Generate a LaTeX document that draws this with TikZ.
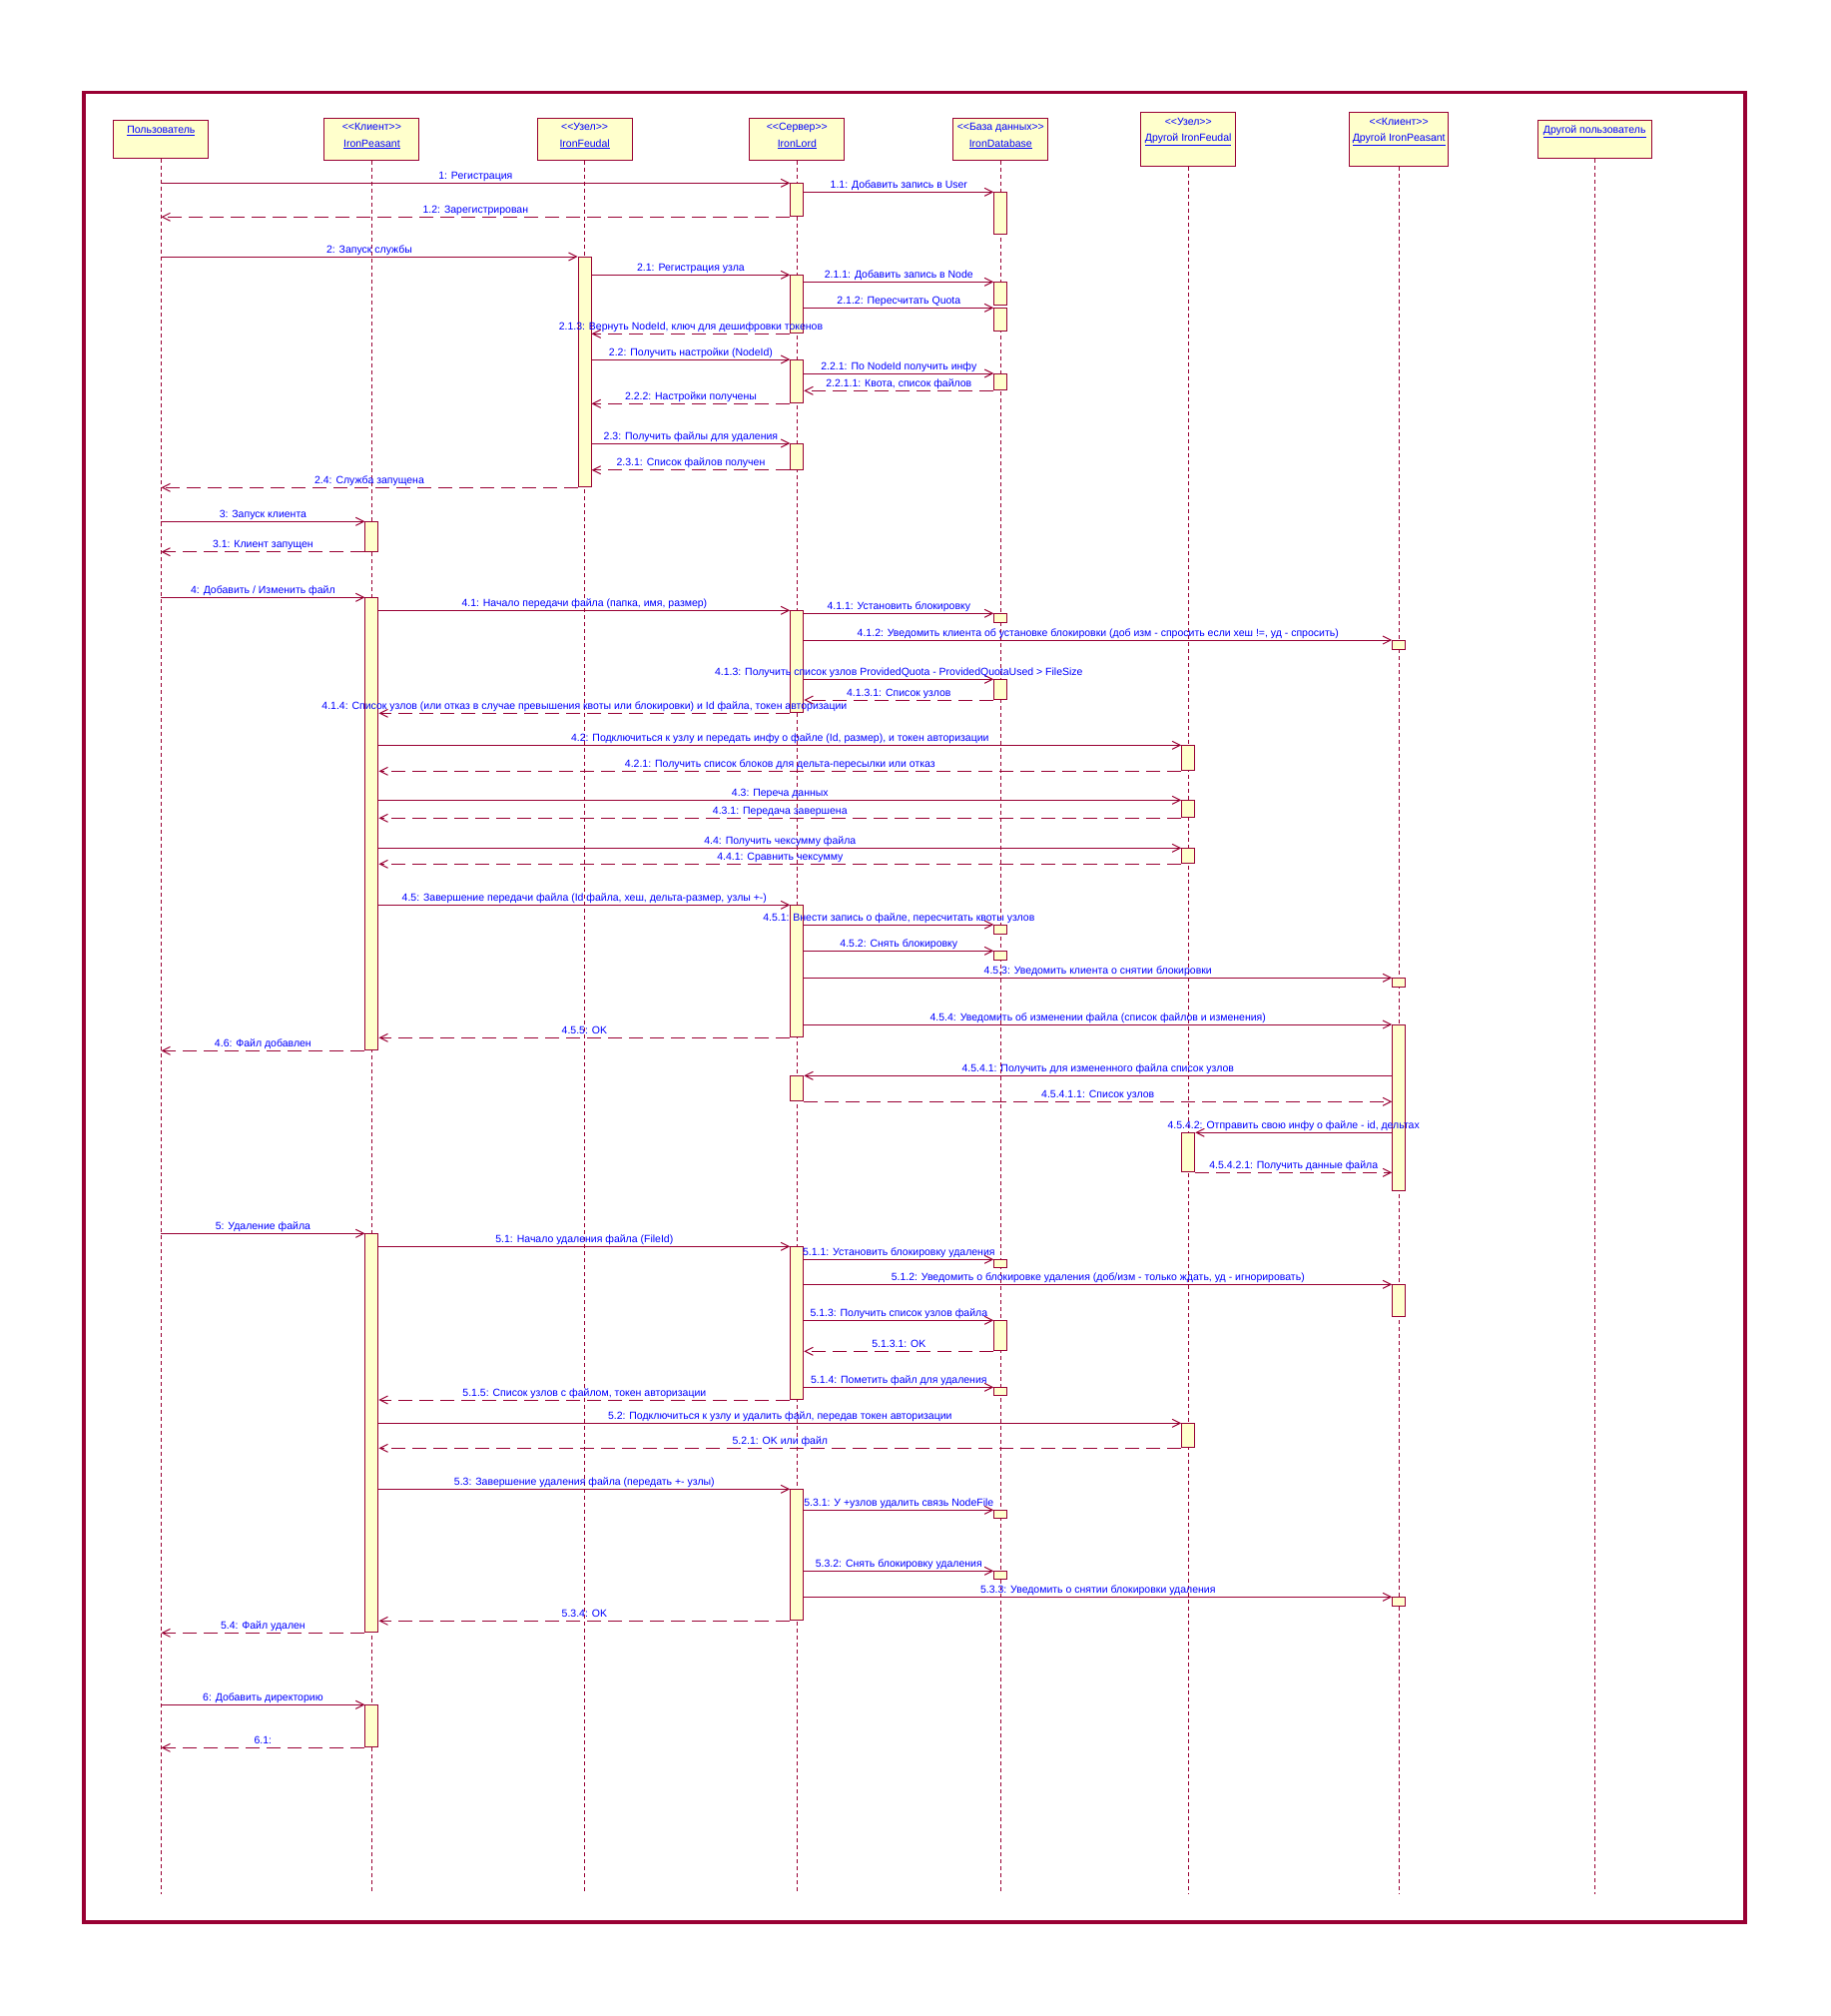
\documentclass[tikz,border=0pt]{standalone}
\usepackage{fontspec}
\newfontfamily\umlfont{Liberation Sans}
\usetikzlibrary{arrows.meta,positioning}
\definecolor{umlred}{RGB}{153,0,51}
\definecolor{umlfill}{RGB}{255,255,204}
\definecolor{umlblue}{RGB}{0,0,255}
\newcommand{\msgfont}{\umlfont\fontsize{10.5}{12}\selectfont}
% activation bar: name, lifeline, top, bottom
\newcommand{\actbar}[4]{\node[act, minimum height={#4-#3}] (#1) at (#2 |- 0,#3) {};}
\tikzset{
  objbox/.style={draw=umlred, fill=umlfill, line width=1pt, anchor=north, inner sep=0pt},
  objtxt/.style={anchor=base, inner sep=0pt, text=umlblue, font=\msgfont},
  lifeline/.style={draw=umlred, line width=0.9pt, dash pattern=on 4pt off 3pt},
  act/.style={draw=umlred, fill=umlfill, line width=1pt, minimum width=13, inner sep=0pt, anchor=north},
  call/.style={draw=umlred, line width=1pt, -{Straight Barb[length=8pt,width=8pt]}},
  ret/.style={call, dash pattern=on 14pt off 7pt},
  lbl/.style={midway, anchor=base, yshift=4pt, inner sep=0pt, text=umlblue, font=\msgfont},
  frame/.style={draw=umlred, line width=3.5pt}
}
\begin{document}
\begin{tikzpicture}[x=1pt,y=-1pt]
    \useasboundingbox (0,0) rectangle (1834,2019);
    \draw[frame] (84,92.7) rectangle (1748,1925);

    % objects
    \node[objbox, minimum width=95, minimum height=38] (user) at (161.4,120) {};
    \node[objbox, minimum width=95, minimum height=42] (peasant) at (372.4,118.3) {};
    \node[objbox, minimum width=95, minimum height=42] (feudal) at (585.6,118.3) {};
    \node[objbox, minimum width=95, minimum height=42] (lord) at (798.3,118.3) {};
    \node[objbox, minimum width=95, minimum height=42] (db) at (1002.3,118.3) {};
    \node[objbox, minimum width=95, minimum height=54] (ofeudal) at (1190.2,112.3) {};
    \node[objbox, minimum width=99, minimum height=54] (opeasant) at (1401.2,112.3) {};
    \node[objbox, minimum width=114, minimum height=38] (ouser) at (1597.2,120.3) {};

    \node[objtxt] (user-nm) at ([yshift=-13.6pt]user.north) {\underline{Пользователь}};
    \node[objtxt] (peasant-st) at ([yshift=-12.6pt]peasant.north) {<<Клиент>>};
    \node[objtxt] (peasant-nm) at ([yshift=-28.8pt]peasant.north) {\underline{IronPeasant}};
    \node[objtxt] (feudal-st) at ([yshift=-12.6pt]feudal.north) {<<Узел>>};
    \node[objtxt] (feudal-nm) at ([yshift=-28.8pt]feudal.north) {\underline{IronFeudal}};
    \node[objtxt] (lord-st) at ([yshift=-12.6pt]lord.north) {<<Сервер>>};
    \node[objtxt] (lord-nm) at ([yshift=-28.8pt]lord.north) {\underline{IronLord}};
    \node[objtxt] (db-st) at ([yshift=-12.6pt]db.north) {<<База данных>>};
    \node[objtxt] (db-nm) at ([yshift=-28.8pt]db.north) {\underline{IronDatabase}};
    \node[objtxt] (ofeudal-st) at ([yshift=-13pt]ofeudal.north) {<<Узел>>};
    \node[objtxt] (ofeudal-nm) at ([yshift=-29pt]ofeudal.north) {\underline{Другой IronFeudal}};
    \node[objtxt] (opeasant-st) at ([yshift=-13pt]opeasant.north) {<<Клиент>>};
    \node[objtxt] (opeasant-nm) at ([yshift=-29pt]opeasant.north) {\underline{Другой IronPeasant}};
    \node[objtxt] (ouser-nm) at ([yshift=-13.6pt]ouser.north) {\underline{Другой пользователь}};

    % lifelines
    \draw[lifeline] (user.south) -- (user.south |- 0,1897);
    \draw[lifeline] (peasant.south) -- (peasant.south |- 0,1897);
    \draw[lifeline] (feudal.south) -- (feudal.south |- 0,1897);
    \draw[lifeline] (lord.south) -- (lord.south |- 0,1897);
    \draw[lifeline] (db.south) -- (db.south |- 0,1897);
    \draw[lifeline] (ofeudal.south) -- (ofeudal.south |- 0,1897);
    \draw[lifeline] (opeasant.south) -- (opeasant.south |- 0,1897);
    \draw[lifeline] (ouser.south) -- (ouser.south |- 0,1897);

    % activations
    \actbar{L1}{lord}{183.3}{216.3}
    \actbar{D1}{db}{192.3}{234.3}
    \actbar{F1}{feudal}{257}{487.3}
    \actbar{L2}{lord}{275.3}{333.3}
    \actbar{D2}{db}{282.3}{305.3}
    \actbar{D3}{db}{308.3}{331.3}
    \actbar{L3}{lord}{360}{403.3}
    \actbar{D4}{db}{374}{390.3}
    \actbar{L4}{lord}{444}{469.7}
    \actbar{P1}{peasant}{522.3}{551.7}
    \actbar{P2}{peasant}{598.3}{1051.3}
    \actbar{L5}{lord}{611.3}{713.3}
    \actbar{D5}{db}{614.3}{623.3}
    \actbar{Q1}{opeasant}{641}{650.3}
    \actbar{D6}{db}{680.3}{700}
    \actbar{G1}{ofeudal}{746.3}{771.3}
    \actbar{G2}{ofeudal}{801.3}{818.3}
    \actbar{G3}{ofeudal}{849.3}{864.3}
    \actbar{L6}{lord}{906.3}{1038.3}
    \actbar{D7}{db}{926}{935.3}
    \actbar{D8}{db}{952.3}{961.3}
    \actbar{Q2}{opeasant}{979.3}{988.3}
    \actbar{Q3}{opeasant}{1026}{1192.3}
    \actbar{L7}{lord}{1077.3}{1102.3}
    \actbar{G4}{ofeudal}{1134.3}{1173.3}
    \actbar{P3}{peasant}{1235.3}{1634.3}
    \actbar{L8}{lord}{1248.3}{1401}
    \actbar{D9}{db}{1261.3}{1269.3}
    \actbar{Q4}{opeasant}{1286.3}{1318.3}
    \actbar{D10}{db}{1322.3}{1352.3}
    \actbar{D11}{db}{1389.3}{1397.3}
    \actbar{G5}{ofeudal}{1425.3}{1449.3}
    \actbar{L9}{lord}{1491.3}{1622.3}
    \actbar{D12}{db}{1512.3}{1520.3}
    \actbar{D13}{db}{1573.3}{1581.3}
    \actbar{Q5}{opeasant}{1599.3}{1608.3}
    \actbar{P4}{peasant}{1707.3}{1749.3}

    % 1
    \draw[call] (user |- L1.north) -- (L1.north west) node[lbl] (m1) {1: Регистрация};
    \draw[call] (L1.east |- D1.north) -- (D1.north west) node[lbl] (m1-1) {1.1: Добавить запись в User};
    \draw[ret] (L1.south west) -- (user |- L1.south) node[lbl] (m1-2) {1.2: Зарегистрирован};
    % 2
    \draw[call] (user |- F1.north) -- (F1.north west) node[lbl] (m2) {2: Запуск службы};
    \draw[call] (F1.east |- L2.north) -- (L2.north west) node[lbl] (m2-1) {2.1: Регистрация узла};
    \draw[call] (L2.east |- D2.north) -- (D2.north west) node[lbl] (m2-1-1) {2.1.1: Добавить запись в Node};
    \draw[call] (L2.east |- D3.north) -- (D3.north west) node[lbl] (m2-1-2) {2.1.2: Пересчитать Quota};
    \draw[ret] (L2.south west) -- (F1.east |- L2.south) node[lbl] (m2-1-3) {2.1.3: Вернуть NodeId, ключ для дешифровки токенов};
    \draw[call] (F1.east |- L3.north) -- (L3.north west) node[lbl] (m2-2) {2.2: Получить настройки (NodeId)};
    \draw[call] (L3.east |- D4.north) -- (D4.north west) node[lbl] (m2-2-1) {2.2.1: По NodeId получить инфу};
    \draw[ret] (D4.south west) -- (L3.east |- D4.south) node[lbl] (m2-2-1-1) {2.2.1.1: Квота, список файлов};
    \draw[ret] (L3.south west) -- (F1.east |- L3.south) node[lbl] (m2-2-2) {2.2.2: Настройки получены};
    \draw[call] (F1.east |- L4.north) -- (L4.north west) node[lbl] (m2-3) {2.3: Получить файлы для удаления};
    \draw[ret] (L4.south west) -- (F1.east |- L4.south) node[lbl] (m2-3-1) {2.3.1: Список файлов получен};
    \draw[ret] (F1.south west) -- (user |- F1.south) node[lbl] (m2-4) {2.4: Служба запущена};
    % 3
    \draw[call] (user |- P1.north) -- (P1.north west) node[lbl] (m3) {3: Запуск клиента};
    \draw[ret] (P1.south west) -- (user |- P1.south) node[lbl] (m3-1) {3.1: Клиент запущен};
    % 4
    \draw[call] (user |- P2.north) -- (P2.north west) node[lbl] (m4) {4: Добавить / Изменить файл};
    \draw[call] (P2.east |- L5.north) -- (L5.north west) node[lbl] (m4-1) {4.1: Начало передачи файла (папка, имя, размер)};
    \draw[call] (L5.east |- D5.north) -- (D5.north west) node[lbl] (m4-1-1) {4.1.1: Установить блокировку};
    \draw[call] (L5.east |- Q1.north) -- (Q1.north west) node[lbl] (m4-1-2) {4.1.2: Уведомить клиента об установке блокировки (доб изм - спросить если хеш !=, уд - спросить)};
    \draw[call] (L5.east |- D6.north) -- (D6.north west) node[lbl] (m4-1-3) {4.1.3: Получить список узлов ProvidedQuota - ProvidedQuotaUsed > FileSize};
    \draw[ret] (D6.south west) -- (L5.east |- D6.south) node[lbl] (m4-1-3-1) {4.1.3.1: Список узлов};
    \draw[ret] (L5.south west) -- (P2.east |- L5.south) node[lbl] (m4-1-4) {4.1.4: Список узлов (или отказ в случае превышения квоты или блокировки) и Id файла, токен авторизации};
    \draw[call] (P2.east |- G1.north) -- (G1.north west) node[lbl] (m4-2) {4.2: Подключиться к узлу и передать инфу о файле (Id, размер), и токен авторизации};
    \draw[ret] (G1.south west) -- (P2.east |- G1.south) node[lbl] (m4-2-1) {4.2.1: Получить список блоков для дельта-пересылки или отказ};
    \draw[call] (P2.east |- G2.north) -- (G2.north west) node[lbl] (m4-3) {4.3: Переча данных};
    \draw[ret] (G2.south west) -- (P2.east |- G2.south) node[lbl] (m4-3-1) {4.3.1: Передача завершена};
    \draw[call] (P2.east |- G3.north) -- (G3.north west) node[lbl] (m4-4) {4.4: Получить чексумму файла};
    \draw[ret] (G3.south west) -- (P2.east |- G3.south) node[lbl] (m4-4-1) {4.4.1: Сравнить чексумму};
    \draw[call] (P2.east |- L6.north) -- (L6.north west) node[lbl] (m4-5) {4.5: Завершение передачи файла (Id файла, хеш, дельта-размер, узлы +-)};
    \draw[call] (L6.east |- D7.north) -- (D7.north west) node[lbl] (m4-5-1) {4.5.1: Внести запись о файле, пересчитать квоты узлов};
    \draw[call] (L6.east |- D8.north) -- (D8.north west) node[lbl] (m4-5-2) {4.5.2: Снять блокировку};
    \draw[call] (L6.east |- Q2.north) -- (Q2.north west) node[lbl] (m4-5-3) {4.5.3: Уведомить клиента о снятии блокировки};
    \draw[call] (L6.east |- Q3.north) -- (Q3.north west) node[lbl] (m4-5-4) {4.5.4: Уведомить об изменении файла (список файлов и изменения)};
    \draw[ret] (L6.south west) -- (P2.east |- L6.south) node[lbl] (m4-5-5) {4.5.5: OK};
    \draw[ret] (P2.south west) -- (user |- P2.south) node[lbl] (m4-6) {4.6: Файл добавлен};
    \draw[call] (Q3.west |- L7.north) -- (L7.north east) node[lbl] (m4-5-4-1) {4.5.4.1: Получить для измененного файла список узлов};
    \draw[ret] (L7.south east) -- (Q3.west |- L7.south) node[lbl] (m4-5-4-1-1) {4.5.4.1.1: Список узлов};
    \draw[call] (Q3.west |- G4.north) -- (G4.north east) node[lbl] (m4-5-4-2) {4.5.4.2: Отправить свою инфу о файле - id, дельтах};
    \draw[ret] (G4.south east) -- (Q3.west |- G4.south) node[lbl] (m4-5-4-2-1) {4.5.4.2.1: Получить данные файла};
    % 5
    \draw[call] (user |- P3.north) -- (P3.north west) node[lbl] (m5) {5: Удаление файла};
    \draw[call] (P3.east |- L8.north) -- (L8.north west) node[lbl] (m5-1) {5.1: Начало удаления файла (FileId)};
    \draw[call] (L8.east |- D9.north) -- (D9.north west) node[lbl] (m5-1-1) {5.1.1: Установить блокировку удаления};
    \draw[call] (L8.east |- Q4.north) -- (Q4.north west) node[lbl] (m5-1-2) {5.1.2: Уведомить о блокировке удаления (доб/изм - только ждать, уд - игнорировать)};
    \draw[call] (L8.east |- D10.north) -- (D10.north west) node[lbl] (m5-1-3) {5.1.3: Получить список узлов файла};
    \draw[ret] (D10.south west) -- (L8.east |- D10.south) node[lbl] (m5-1-3-1) {5.1.3.1: OK};
    \draw[call] (L8.east |- D11.north) -- (D11.north west) node[lbl] (m5-1-4) {5.1.4: Пометить файл для удаления};
    \draw[ret] (L8.south west) -- (P3.east |- L8.south) node[lbl] (m5-1-5) {5.1.5: Список узлов с файлом, токен авторизации};
    \draw[call] (P3.east |- G5.north) -- (G5.north west) node[lbl] (m5-2) {5.2: Подключиться к узлу и удалить файл, передав токен авторизации};
    \draw[ret] (G5.south west) -- (P3.east |- G5.south) node[lbl] (m5-2-1) {5.2.1: OK или файл};
    \draw[call] (P3.east |- L9.north) -- (L9.north west) node[lbl] (m5-3) {5.3: Завершение удаления файла (передать +- узлы)};
    \draw[call] (L9.east |- D12.north) -- (D12.north west) node[lbl] (m5-3-1) {5.3.1: У +узлов удалить связь NodeFile};
    \draw[call] (L9.east |- D13.north) -- (D13.north west) node[lbl] (m5-3-2) {5.3.2: Снять блокировку удаления};
    \draw[call] (L9.east |- Q5.north) -- (Q5.north west) node[lbl] (m5-3-3) {5.3.3: Уведомить о снятии блокировки удаления};
    \draw[ret] (L9.south west) -- (P3.east |- L9.south) node[lbl] (m5-3-4) {5.3.4: OK};
    \draw[ret] (P3.south west) -- (user |- P3.south) node[lbl] (m5-4) {5.4: Файл удален};
    % 6
    \draw[call] (user |- P4.north) -- (P4.north west) node[lbl] (m6) {6: Добавить директорию};
    \draw[ret] (P4.south west) -- (user |- P4.south) node[lbl] (m6-1) {6.1:};
\end{tikzpicture}
\end{document}
